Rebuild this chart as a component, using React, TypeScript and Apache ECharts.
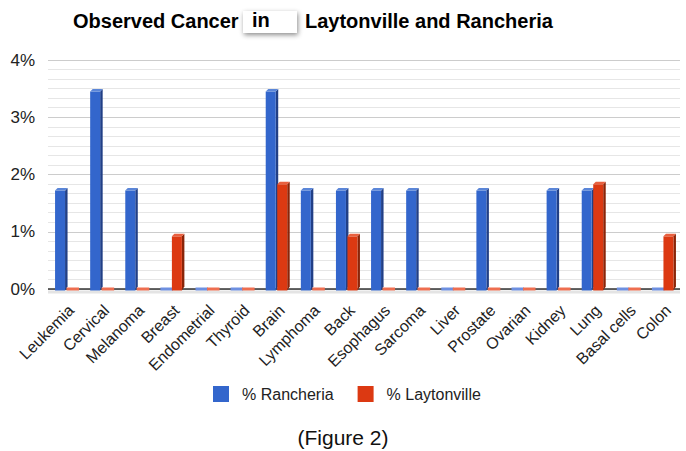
import React, { useEffect, useRef } from "react";
import * as echarts from "echarts";

const categories = [
  "Leukemia", "Cervical", "Melanoma", "Breast", "Endometrial", "Thyroid", "Brain",
  "Lymphoma", "Back", "Esophagus", "Sarcoma", "Liver", "Prostate", "Ovarian",
  "Kidney", "Lung", "Basal cells", "Colon",
];
const rancheria = [1.72, 3.45, 1.72, 0, 0, 0, 3.45, 1.72, 1.72, 1.72, 1.72, 0, 1.72, 0, 1.72, 1.72, 0, 0];
const laytonville = [0, 0, 0, 0.92, 0, 0, 1.83, 0, 0.92, 0, 0, 0, 0, 0, 0, 1.83, 0, 0.92];
const yTicks = [0, 1, 2, 3, 4];
const seriesNames = ["% Rancheria", "% Laytonville"];

const FONT = "Liberation Sans, Arial, sans-serif";

function makeRender(shift: number, front: string, side: string, top: string, flat: string) {
  return (params: any, api: any) => {
    const idx = api.value(0);
    const v = api.value(1);
    const base = api.coord([idx, 0]);
    const tp = api.coord([idx, v]);
    const w = 10;
    const d = 2.5;
    const x0 = base[0] + shift;
    if (!v) {
      return {
        type: "rect",
        shape: { x: x0, y: base[1] - 1.5, width: w + d, height: 3 },
        style: { fill: flat },
      };
    }
    return {
      type: "group",
      children: [
        {
          type: "polygon",
          shape: { points: [[x0 + w, tp[1]], [x0 + w + d, tp[1] - d], [x0 + w + d, base[1] - d], [x0 + w, base[1] + 1.5]] },
          style: { fill: side },
        },
        {
          type: "rect",
          shape: { x: x0, y: tp[1], width: w, height: base[1] - tp[1] + 1.5 },
          style: { fill: front },
        },
        {
          type: "polygon",
          shape: { points: [[x0, tp[1]], [x0 + d, tp[1] - d], [x0 + w + d, tp[1] - d], [x0 + w, tp[1]]] },
          style: { fill: top },
        },
      ],
    };
  };
}

export default function App() {
  const ref = useRef<HTMLDivElement>(null);
  useEffect(() => {
    if (!ref.current) return;
    const chart = echarts.init(ref.current, null, { renderer: "svg" });
    chart.setOption({
      animation: false,
      backgroundColor: "#ffffff",
      grid: { left: 48, right: 6, top: 60, bottom: 162 },
      xAxis: {
        type: "category",
        data: categories,
        axisTick: { show: false },
        axisLine: { show: false },
        axisLabel: {
          rotate: 45, fontSize: 16, color: "#222", fontFamily: FONT, margin: 13, interval: 0,
          verticalAlign: "top",
        },
      },
      yAxis: {
        type: "value",
        min: yTicks[0],
        max: yTicks[yTicks.length - 1],
        interval: 1,
        axisLine: { show: false },
        axisTick: { show: false },
        axisLabel: { formatter: "{value}%", fontSize: 17, color: "#222", fontFamily: FONT, margin: 13 },
        splitLine: { lineStyle: { color: "#cccccc", width: 1 } },
        minorTick: { show: false, splitNumber: 6 },
        minorSplitLine: { show: true, lineStyle: { color: "#e6e6e6", width: 1 } },
      },
      legend: {
        left: 213,
        top: 386,
        padding: 0,
        itemWidth: 16,
        itemHeight: 16,
        itemGap: 24,
        icon: "rect",
        data: seriesNames,
        textStyle: { fontSize: 16, color: "#222", fontFamily: FONT, padding: [0, 0, 0, 8] },
      },
      graphic: [
        {
          type: "text",
          left: 73,
          top: 11,
          style: { text: "Observed Cancer", font: `bold 20px ${FONT}`, fill: "#000" },
        },
        {
          type: "rect",
          left: 243,
          top: 11,
          shape: { width: 54, height: 22 },
          style: { fill: "#fff", shadowBlur: 5, shadowColor: "rgba(0,0,0,0.45)", shadowOffsetY: 2, shadowOffsetX: 1 },
        },
        {
          type: "text",
          left: 252,
          top: 10,
          style: { text: "in", font: `bold 20px ${FONT}`, fill: "#000" },
        },
        {
          type: "text",
          left: 305,
          top: 11,
          style: { text: "Laytonville and Rancheria", font: `bold 20px ${FONT}`, fill: "#000" },
        },
        {
          type: "line",
          shape: { x1: 48, y1: 292, x2: 680, y2: 292 },
          style: { stroke: "#e4e4e4", lineWidth: 3 },
          z: 0,
        },
        {
          type: "line",
          shape: { x1: 48, y1: 289, x2: 680, y2: 289 },
          style: { stroke: "#333", lineWidth: 1.5 },
          z: 1,
        },
        {
          type: "text",
          left: "center",
          top: 427,
          style: { text: "(Figure 2)", font: `21px ${FONT}`, fill: "#111" },
        },
      ],
      series: [
        {
          name: seriesNames[0],
          type: "custom",
          itemStyle: { color: "#3366cc" },
          encode: { x: 0, y: 1 },
          z: 3,
          data: rancheria.map((v, i) => [i, v]),
          renderItem: makeRender(-10.5, "#3366cc", "#213f86", "#5b86d8", "#6d8fe0"),
        },
        {
          name: seriesNames[1],
          type: "custom",
          itemStyle: { color: "#dc3912" },
          encode: { x: 0, y: 1 },
          z: 3,
          data: laytonville.map((v, i) => [i, v]),
          renderItem: makeRender(1, "#dc3912", "#8a2408", "#e8603f", "#ee6e50"),
        },
      ],
    });
    return () => chart.dispose();
  }, []);
  return (
    <div style={{ position: "fixed", left: 0, top: 0, width: 686, height: 451, background: "#fff" }}>
      <div ref={ref} style={{ width: 686, height: 451 }} />
    </div>
  );
}
